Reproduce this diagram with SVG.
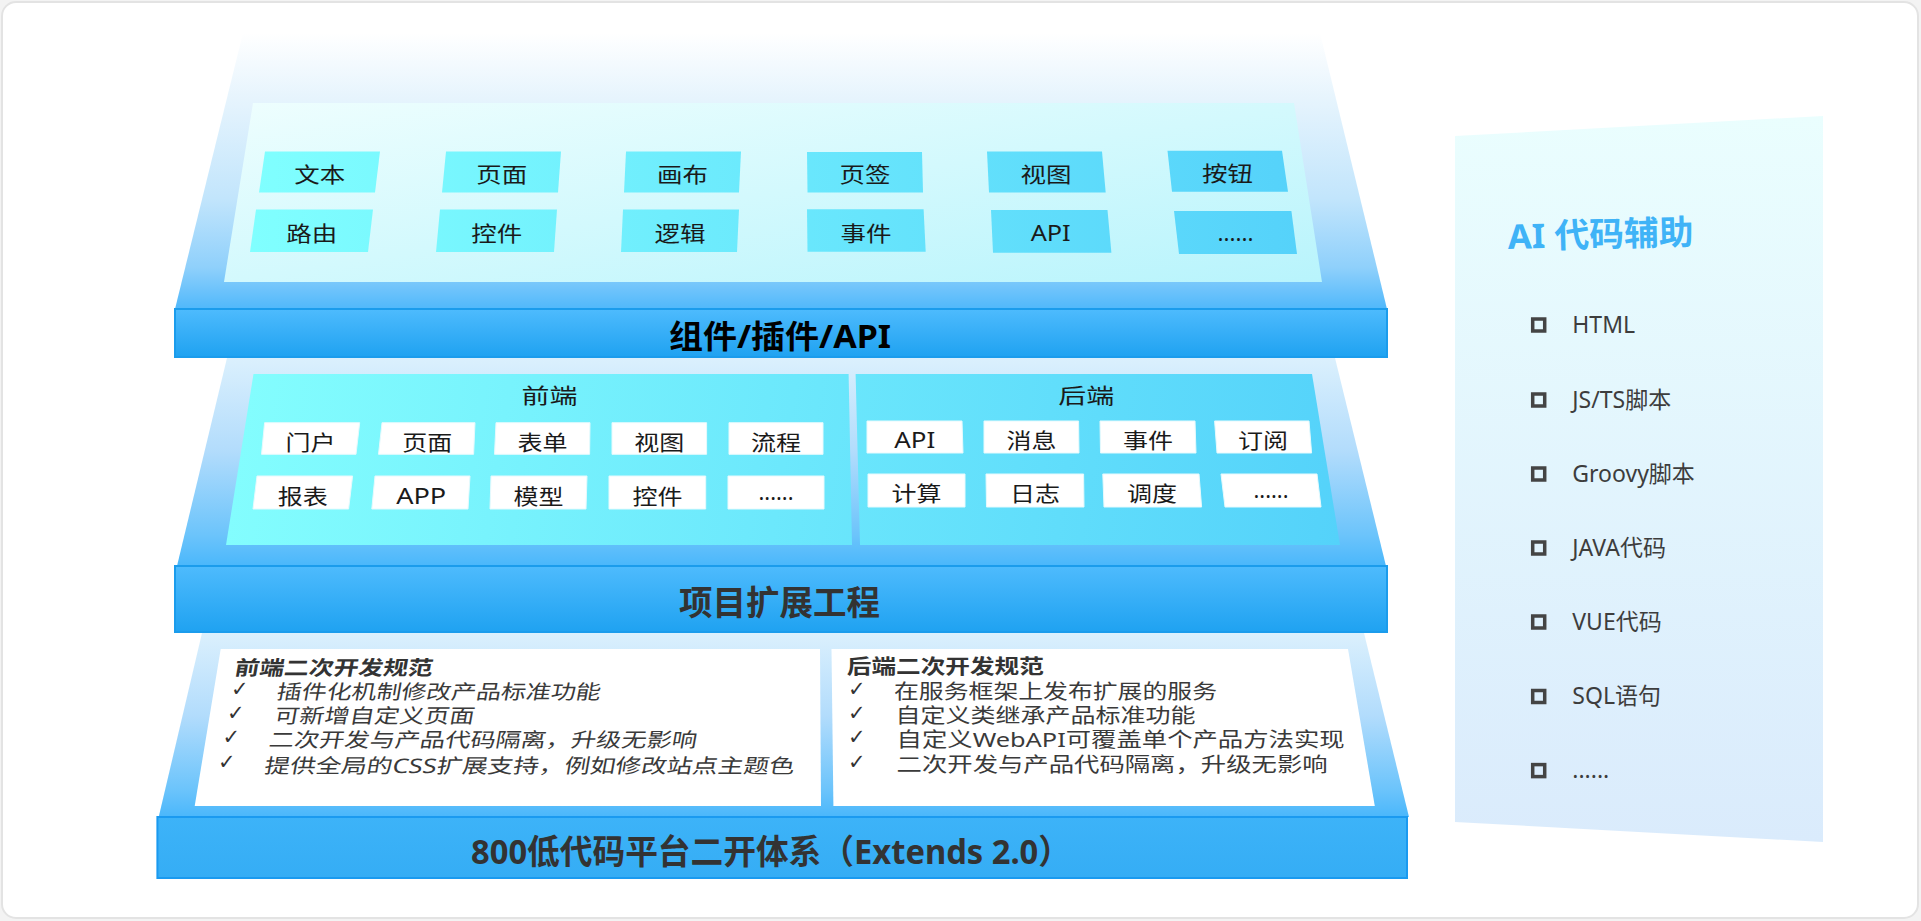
<svg xmlns="http://www.w3.org/2000/svg" width="1921" height="921" viewBox="0 0 1921 921">
<defs>
<linearGradient id="bg1" x1="0" y1="0" x2="0" y2="1">
<stop offset="0" stop-color="#ffffff"/><stop offset="0.24" stop-color="#e6f4fd"/><stop offset="0.6" stop-color="#c2e5fc"/><stop offset="0.85" stop-color="#8fd0fb"/><stop offset="1" stop-color="#50b8fb"/>
</linearGradient>
<linearGradient id="bg2" x1="0" y1="0" x2="0" y2="1">
<stop offset="0" stop-color="#dbf0fd"/><stop offset="0.45" stop-color="#b2dcfc"/><stop offset="0.85" stop-color="#6cc4fb"/><stop offset="1" stop-color="#4ab7fb"/>
</linearGradient>
<linearGradient id="band" x1="0" y1="0" x2="0" y2="1">
<stop offset="0" stop-color="#4ebbfd"/><stop offset="1" stop-color="#1fa2f1"/>
</linearGradient>
<linearGradient id="band3" x1="0" y1="0" x2="0" y2="1">
<stop offset="0" stop-color="#3db3f8"/><stop offset="1" stop-color="#35adf5"/>
</linearGradient>
<linearGradient id="panel1" x1="0" y1="0" x2="1" y2="1">
<stop offset="0" stop-color="#eefefe"/><stop offset="1" stop-color="#b8f4fc"/>
</linearGradient>
<linearGradient id="btn1" gradientUnits="userSpaceOnUse" x1="250" y1="0" x2="1300" y2="0">
<stop offset="0" stop-color="#80ffff"/><stop offset="1" stop-color="#55d2fa"/>
</linearGradient>
<linearGradient id="panel2" gradientUnits="userSpaceOnUse" x1="226" y1="374" x2="1340" y2="545">
<stop offset="0" stop-color="#84fefe"/><stop offset="1" stop-color="#54d2fa"/>
</linearGradient>
<linearGradient id="ai" x1="0" y1="0" x2="0" y2="1">
<stop offset="0" stop-color="#eafefe"/><stop offset="1" stop-color="#daebfc"/>
</linearGradient>
</defs>
<style>
text{font-family:"Noto Sans","Noto Sans CJK SC",sans-serif}
.b1{fill:url(#btn1)}
.b2{fill:#ffffff;stroke:#e6fafd;stroke-width:1}
.lbl{font-size:21px;fill:#1a1a1a;text-anchor:middle}
.band{fill:url(#band);stroke:#1b9cec;stroke-width:2}
.bt{font-weight:700;text-anchor:start}
.li{font-size:20px;fill:#3a3a3a}
.lt{font-size:20px;fill:#333;font-weight:700}
.ck{font-family:"DejaVu Sans",sans-serif;font-size:21px;font-weight:700;fill:#333}
.ai{font-size:23px;fill:#3d3d3d}
.sq{fill:none;stroke:#444;stroke-width:3.5}
</style>
<rect x="0" y="0" width="1921" height="921" fill="#f3f3f3"/>
<rect id="card" x="2" y="2" width="1916" height="916" rx="14" fill="#ffffff" stroke="#e3e3e3" stroke-width="2"/>

<g id="layer1">
<polygon points="243,33 1320,33 1387,309 175,309" fill="url(#bg1)"/>
<polygon points="253,103 1294,103 1322,282 224,282" fill="url(#panel1)"/>
<g id="l1-wenben"><polygon class="b1" points="265,151.5 380,151.5 375,192.5 259,192.5"/><text class="lbl" x="319.8" y="182" textLength="51" lengthAdjust="spacingAndGlyphs">文本</text></g>
<g id="l1-yemian"><polygon class="b1" points="446,151.5 561,151.5 558,192.5 442,192.5"/><text class="lbl" x="501.8" y="182" textLength="51" lengthAdjust="spacingAndGlyphs">页面</text></g>
<g id="l1-huabu"><polygon class="b1" points="626,151.5 741,151.5 739,192.5 624,192.5"/><text class="lbl" x="682.5" y="182" textLength="51" lengthAdjust="spacingAndGlyphs">画布</text></g>
<g id="l1-yeqian"><polygon class="b1" points="807,152 922,152 923,192.5 807.5,192.5"/><text class="lbl" x="864.9" y="182" textLength="51" lengthAdjust="spacingAndGlyphs">页签</text></g>
<g id="l1-shitu"><polygon class="b1" points="987,151.5 1102,151.5 1105.7,192.5 989,192.5"/><text class="lbl" x="1045.9" y="182" textLength="51" lengthAdjust="spacingAndGlyphs">视图</text></g>
<g id="l1-anniu"><polygon class="b1" points="1167.5,150.7 1282,150.7 1288,191.7 1172,191.7"/><text class="lbl" x="1227.4" y="181" textLength="51" lengthAdjust="spacingAndGlyphs">按钮</text></g>
<g id="l1-luyou"><polygon class="b1" points="256,209.5 373,209.5 368,252 250,252"/><text class="lbl" x="311.8" y="241" textLength="51" lengthAdjust="spacingAndGlyphs">路由</text></g>
<g id="l1-kongjian"><polygon class="b1" points="440,209.5 557,209.5 554,252 436,252"/><text class="lbl" x="496.8" y="241" textLength="51" lengthAdjust="spacingAndGlyphs">控件</text></g>
<g id="l1-luoji"><polygon class="b1" points="623,209.5 739,209.5 737,252 621,252"/><text class="lbl" x="680" y="241" textLength="51" lengthAdjust="spacingAndGlyphs">逻辑</text></g>
<g id="l1-shijian"><polygon class="b1" points="807,209.3 923.6,209.3 925.7,251.7 807.5,251.7"/><text class="lbl" x="866" y="241" textLength="51" lengthAdjust="spacingAndGlyphs">事件</text></g>
<g id="l1-api"><polygon class="b1" points="991,210 1107.5,210 1111.4,252.7 993,252.7"/><text class="lbl" x="1050.7" y="241" textLength="40" lengthAdjust="spacingAndGlyphs">API</text></g>
<g id="l1-more"><polygon class="b1" points="1174,211 1291.4,211 1297,254 1179,254"/><text class="lbl" x="1235.4" y="241" textLength="36" lengthAdjust="spacingAndGlyphs">......</text></g>
<g id="band1"><rect class="band" x="175" y="309" width="1212" height="48"/><text class="bt" x="669" y="347.5" font-size="32" fill="#000" textLength="222" lengthAdjust="spacingAndGlyphs">组件/插件/API</text></g>
</g>

<g id="layer2">
<polygon points="227,358 1335,358 1386,566 177,566" fill="url(#bg2)"/>
<g id="frontend">
<polygon points="253.5,374 848.6,374 852,545 226,545" fill="url(#panel2)"/>
<text class="lbl" x="549.5" y="403" font-size="22" textLength="56" lengthAdjust="spacingAndGlyphs">前端</text>
<g id="l2-menhu"><polygon class="b2" points="264.6,422.7 359.7,422.7 356,454.3 261.5,454.3"/><text class="lbl" x="310.5" y="449.7" textLength="50" lengthAdjust="spacingAndGlyphs">门户</text></g>
<g id="l2-yemian"><polygon class="b2" points="382,422.7 475,422.7 473.6,454.3 378.5,454.3"/><text class="lbl" x="427.3" y="449.7" textLength="50" lengthAdjust="spacingAndGlyphs">页面</text></g>
<g id="l2-biaodan"><polygon class="b2" points="496,422.7 590,422.7 589.6,454.3 494.5,454.3"/><text class="lbl" x="542.5" y="449.7" textLength="50" lengthAdjust="spacingAndGlyphs">表单</text></g>
<g id="l2-shitu"><polygon class="b2" points="612,422.7 706.6,422.7 706.6,454.3 612,454.3"/><text class="lbl" x="659.3" y="449.7" textLength="50" lengthAdjust="spacingAndGlyphs">视图</text></g>
<g id="l2-liucheng"><polygon class="b2" points="729,422.7 823,422.7 823,454.3 729,454.3"/><text class="lbl" x="776" y="449.7" textLength="50" lengthAdjust="spacingAndGlyphs">流程</text></g>
<g id="l2-baobiao"><polygon class="b2" points="257,476 352.6,476 348.6,509 253,509"/><text class="lbl" x="302.8" y="503.5" textLength="50" lengthAdjust="spacingAndGlyphs">报表</text></g>
<g id="l2-app"><polygon class="b2" points="375,476 470,476 468,509 371.8,509"/><text class="lbl" x="421.2" y="503.5" textLength="50" lengthAdjust="spacingAndGlyphs">APP</text></g>
<g id="l2-moxing"><polygon class="b2" points="491,476 587,476 586,509 490,509"/><text class="lbl" x="538.5" y="503.5" textLength="50" lengthAdjust="spacingAndGlyphs">模型</text></g>
<g id="l2-kongjian"><polygon class="b2" points="609,476 705.7,476 705.7,509 609,509"/><text class="lbl" x="657.4" y="503.5" textLength="50" lengthAdjust="spacingAndGlyphs">控件</text></g>
<g id="l2-more1"><polygon class="b2" points="728,476 824,476 824,509 728,509"/><text class="lbl" x="776" y="500" textLength="35" lengthAdjust="spacingAndGlyphs">......</text></g>
</g>
<g id="backend">
<polygon points="855.6,374 1312,374 1340,545 860,545" fill="url(#panel2)"/>
<text class="lbl" x="1086.3" y="403" font-size="22" textLength="56" lengthAdjust="spacingAndGlyphs">后端</text>
<g id="l2-api"><polygon class="b2" points="867,421 962,421 963,453 867,453"/><text class="lbl" x="914.8" y="447.5" textLength="41" lengthAdjust="spacingAndGlyphs">API</text></g>
<g id="l2-xiaoxi"><polygon class="b2" points="984,421 1078.6,421 1079,453 984,453"/><text class="lbl" x="1031.4" y="447.5" textLength="50" lengthAdjust="spacingAndGlyphs">消息</text></g>
<g id="l2-shijian"><polygon class="b2" points="1100,421 1195,421 1196,453 1100.5,453"/><text class="lbl" x="1147.9" y="447.5" textLength="50" lengthAdjust="spacingAndGlyphs">事件</text></g>
<g id="l2-dingyue"><polygon class="b2" points="1214.6,421 1309,421 1311.6,453 1217,453"/><text class="lbl" x="1263" y="447.5" textLength="50" lengthAdjust="spacingAndGlyphs">订阅</text></g>
<g id="l2-jisuan"><polygon class="b2" points="868,474 965,474 965,507 868,507"/><text class="lbl" x="916.5" y="501" textLength="50" lengthAdjust="spacingAndGlyphs">计算</text></g>
<g id="l2-rizhi"><polygon class="b2" points="986,474 1083.6,474 1084,507 986.5,507"/><text class="lbl" x="1035" y="501" textLength="50" lengthAdjust="spacingAndGlyphs">日志</text></g>
<g id="l2-diaodu"><polygon class="b2" points="1102.8,474 1199,474 1201.6,507 1104,507"/><text class="lbl" x="1151.9" y="501" textLength="50" lengthAdjust="spacingAndGlyphs">调度</text></g>
<g id="l2-more2"><polygon class="b2" points="1221,474 1317,474 1321,507 1225,507"/><text class="lbl" x="1271" y="497.5" textLength="35" lengthAdjust="spacingAndGlyphs">......</text></g>
</g>
<g id="band2"><rect class="band" x="175" y="566" width="1212" height="66"/><text class="bt" x="679" y="614.5" font-size="34" fill="#333" textLength="201" lengthAdjust="spacingAndGlyphs">项目扩展工程</text></g>
</g>

<g id="layer3">
<polygon points="202,633 1364,633 1409,817 158.7,817" fill="url(#bg2)"/>
<g id="frontend-spec">
<polygon points="220.7,649 820,649 821,806 194.7,806" fill="#ffffff"/>
<text class="lt" transform="translate(233.7,675) skewX(-10)" textLength="198" lengthAdjust="spacingAndGlyphs">前端二次开发规范</text>
<text class="ck" x="231" y="696">✓</text>
<text class="li" transform="translate(275.8,699) skewX(-10)" textLength="324" lengthAdjust="spacingAndGlyphs">插件化机制修改产品标准功能</text>
<text class="ck" x="227" y="720">✓</text>
<text class="li" transform="translate(273.6,722.7) skewX(-10)" textLength="200" lengthAdjust="spacingAndGlyphs">可新增自定义页面</text>
<text class="ck" x="222.5" y="744">✓</text>
<text class="li" transform="translate(268,747) skewX(-10)" textLength="428" lengthAdjust="spacingAndGlyphs">二次开发与产品代码隔离，升级无影响</text>
<text class="ck" x="218" y="769">✓</text>
<text class="li" transform="translate(263.6,772.5) skewX(-10)" textLength="530" lengthAdjust="spacingAndGlyphs">提供全局的CSS扩展支持，例如修改站点主题色</text>
</g>
<g id="backend-spec">
<polygon points="831.5,649 1348,649 1374.8,806 833.4,806" fill="#ffffff"/>
<text class="lt" x="846.8" y="674" textLength="197" lengthAdjust="spacingAndGlyphs">后端二次开发规范</text>
<text class="ck" x="848" y="696">✓</text>
<text class="li" x="894" y="699" textLength="323" lengthAdjust="spacingAndGlyphs">在服务框架上发布扩展的服务</text>
<text class="ck" x="848" y="720">✓</text>
<text class="li" x="895.5" y="722.7" textLength="300" lengthAdjust="spacingAndGlyphs">自定义类继承产品标准功能</text>
<text class="ck" x="848" y="744">✓</text>
<text class="li" x="896.6" y="747" textLength="448" lengthAdjust="spacingAndGlyphs">自定义WebAPI可覆盖单个产品方法实现</text>
<text class="ck" x="848" y="769">✓</text>
<text class="li" x="896.6" y="771.7" textLength="431" lengthAdjust="spacingAndGlyphs">二次开发与产品代码隔离，升级无影响</text>
</g>
<g id="band3g"><rect x="157.4" y="817" width="1249.6" height="61" fill="url(#band3)" stroke="#1a9af0" stroke-width="2"/><text class="bt" x="471" y="863.5" font-size="34" fill="#333" textLength="600" lengthAdjust="spacingAndGlyphs">800低代码平台二开体系（Extends 2.0）</text></g>
</g>

<g id="ai-panel">
<polygon points="1455,136 1823,116 1823,842 1455,822" fill="url(#ai)"/>
<text x="1508" y="249" font-size="34" font-weight="700" fill="#3fb3f7" textLength="186" lengthAdjust="spacingAndGlyphs" transform="rotate(-1.5 1508 249)">AI 代码辅助</text>
<g id="ai-html"><rect class="sq" x="1532.7" y="319" width="12" height="12"/><text class="ai" x="1572.3" y="332.5">HTML</text></g>
<g id="ai-js"><rect class="sq" x="1532.7" y="394" width="12" height="12"/><text class="ai" x="1572.3" y="407.5">JS/TS脚本</text></g>
<g id="ai-groovy"><rect class="sq" x="1532.7" y="468" width="12" height="12"/><text class="ai" x="1572.3" y="481.5">Groovy脚本</text></g>
<g id="ai-java"><rect class="sq" x="1532.7" y="542" width="12" height="12"/><text class="ai" x="1572.3" y="555.5">JAVA代码</text></g>
<g id="ai-vue"><rect class="sq" x="1532.7" y="616" width="12" height="12"/><text class="ai" x="1572.3" y="629.5">VUE代码</text></g>
<g id="ai-sql"><rect class="sq" x="1532.7" y="690.5" width="12" height="12"/><text class="ai" x="1572.3" y="704">SQL语句</text></g>
<g id="ai-more"><rect class="sq" x="1532.7" y="764.6" width="12" height="12"/><text class="ai" x="1572.3" y="778">......</text></g>
</g>
<g id="connectors"/>
</svg>
